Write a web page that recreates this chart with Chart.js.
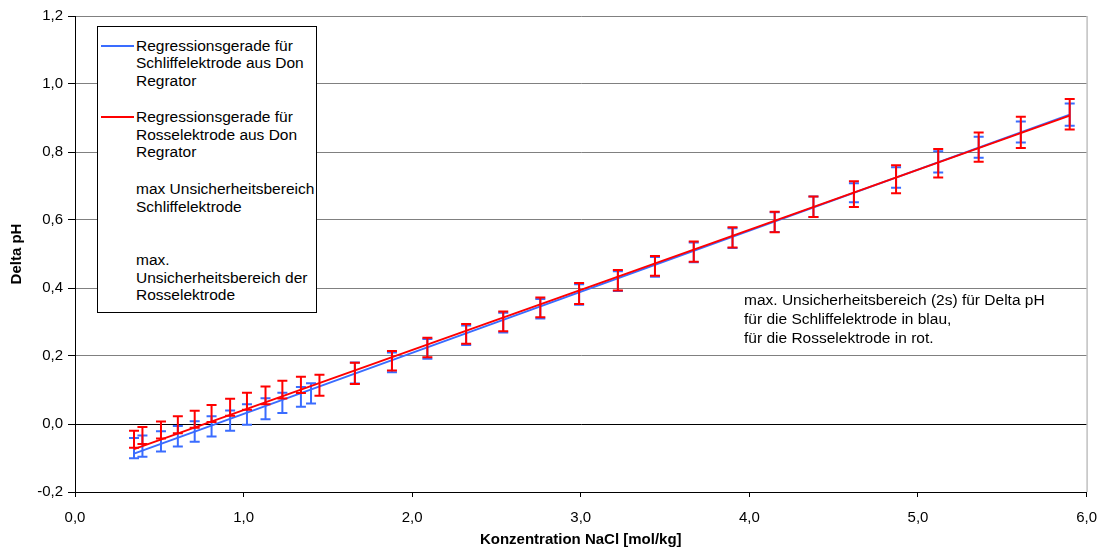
<!DOCTYPE html>
<html>
<head>
<meta charset="utf-8">
<script src="https://cdn.jsdelivr.net/npm/chart.js@4.4.1/dist/chart.umd.min.js"></script>
<style>
  body { margin: 0; background: #fff; }
  #wrap { position: relative; width: 1109px; height: 551px; font-family: "Liberation Sans", Arial, sans-serif; }
  #legend { position: absolute; left: 97px; top: 26px; width: 218px; height: 285px; border: 1px solid #000; background: #fff; }
  .entry { position: absolute; left: 38px; font-size: 15.5px; line-height: 17.5px; color: #000; white-space: nowrap; }
  .sample { position: absolute; left: 3px; width: 33px; height: 0; border-top: 2px solid; }
  #note { position: absolute; left: 744px; top: 290px; font-size: 15.5px; line-height: 19px; color: #000; white-space: nowrap; }
</style>
</head>
<body>
<div id="wrap">
  <canvas id="chart" width="1109" height="551"></canvas>
  <div id="legend"></div>
  <div id="note"></div>
</div>
<script>
// Konzentration NaCl [mol/kg] der Messpunkte
const xRoss = [0.35, 0.40, 0.51, 0.61, 0.71, 0.81, 0.92, 1.02, 1.13, 1.23, 1.34, 1.45, 1.66, 1.88, 2.09, 2.32, 2.54, 2.76, 2.99, 3.22, 3.44, 3.67, 3.90, 4.15, 4.38, 4.62, 4.87, 5.12, 5.36, 5.61, 5.90];
const xSchliff = [0.35, 0.40, 0.51, 0.61, 0.71, 0.81, 0.92, 1.02, 1.13, 1.23, 1.34, 1.40, 1.66, 1.88, 2.09, 2.32, 2.54, 2.76, 2.99, 3.22, 3.44, 3.67, 3.90, 4.15, 4.38, 4.62, 4.87, 5.12, 5.36, 5.61, 5.90];

// Delta pH Mittelwerte und Unsicherheit (2s)
const rossMid = [-0.045, -0.034, -0.018, -0.002, 0.014, 0.031, 0.049, 0.067, 0.084, 0.101, 0.115, 0.114, 0.149, 0.186, 0.225, 0.265, 0.302, 0.343, 0.384, 0.423, 0.465, 0.507, 0.549, 0.594, 0.639, 0.676, 0.720, 0.767, 0.814, 0.858, 0.911];
const rossErr = [0.025, 0.025, 0.025, 0.025, 0.025, 0.025, 0.025, 0.025, 0.026, 0.026, 0.024, 0.031, 0.031, 0.029, 0.029, 0.029, 0.029, 0.029, 0.031, 0.030, 0.029, 0.030, 0.030, 0.030, 0.030, 0.038, 0.041, 0.042, 0.043, 0.046, 0.045];
const schliffMid = [-0.071, -0.065, -0.051, -0.036, -0.022, -0.007, 0.010, 0.028, 0.045, 0.062, 0.080, 0.090, 0.150, 0.181, 0.221, 0.261, 0.298, 0.339, 0.381, 0.420, 0.462, 0.505, 0.547, 0.594, 0.639, 0.680, 0.725, 0.771, 0.814, 0.859, 0.910];
const schliffErr = [0.030, 0.031, 0.030, 0.030, 0.030, 0.030, 0.030, 0.030, 0.031, 0.030, 0.029, 0.030, 0.031, 0.029, 0.029, 0.029, 0.029, 0.029, 0.030, 0.029, 0.029, 0.029, 0.029, 0.029, 0.030, 0.028, 0.030, 0.031, 0.031, 0.031, 0.033];

// Regressionsgeraden (Anfang / Ende)
const lineX = [0.35, 5.90];
const schliffLine = [-0.087, 0.910];
const rossLine = [-0.074, 0.907];

const yTicks = [-0.2, 0, 0.2, 0.4, 0.6, 0.8, 1.0, 1.2];

const legendLabels = [
  ["Regressionsgerade für", "Schliffelektrode aus Don", "Regrator"],
  ["Regressionsgerade für", "Rosselektrode aus Don", "Regrator"],
  ["max Unsicherheitsbereich", "Schliffelektrode"],
  ["max.", "Unsicherheitsbereich der", "Rosselektrode"]
];
const noteLines = ["max. Unsicherheitsbereich (2s) für Delta pH", "für die Schliffelektrode in blau,", "für die Rosselektrode in rot."];

const BLUE = "#3a6cff";
const RED = "#ff0000";

function pts(xs, ys) {
  return xs.map((x, i) => ({x: x, y: ys[i]}));
}

function comma(v) {
  return v.toFixed(1).replace(".", ",");
}

// Fehlerbalken pro Datensatz, unter der jeweiligen Geraden
const errorBars = {
  id: "errorBars",
  beforeDatasetDraw(chart, args) {
    const ds = chart.data.datasets[args.index];
    if (!ds.err) return;
    const xs = chart.scales.x, ys = chart.scales.y;
    const ctx = chart.ctx;
    ctx.save();
    ctx.strokeStyle = ds.borderColor;
    ctx.lineWidth = 2;
    ds.err.x.forEach((x, i) => {
      const px = xs.getPixelForValue(x);
      const top = ys.getPixelForValue(ds.err.mid[i] + ds.err.e[i]);
      const bot = ys.getPixelForValue(ds.err.mid[i] - ds.err.e[i]);
      ctx.beginPath();
      ctx.moveTo(px, top); ctx.lineTo(px, bot);
      ctx.moveTo(px - 5, top); ctx.lineTo(px + 5, top);
      ctx.moveTo(px - 5, bot); ctx.lineTo(px + 5, bot);
      ctx.stroke();
    });
    ctx.restore();
  },
  afterDraw(chart) {
    const a = chart.chartArea, ctx = chart.ctx;
    ctx.save();
    ctx.strokeStyle = "#a0a0a0";
    ctx.lineWidth = 1;
    ctx.beginPath();
    ctx.moveTo(a.right + 0.5, a.top);
    ctx.lineTo(a.right + 0.5, a.bottom);
    ctx.stroke();
    ctx.restore();
  }
};

const chart = new Chart(document.getElementById("chart"), {
  type: "scatter",
  data: {
    datasets: [
      {
        label: "Regressionsgerade für Rosselektrode aus Don Regrator",
        data: pts(lineX, rossLine),
        showLine: true,
        borderColor: RED,
        borderWidth: 2,
        pointRadius: 0,
        err: {x: xRoss, mid: rossMid, e: rossErr}
      },
      {
        label: "Regressionsgerade für Schliffelektrode aus Don Regrator",
        data: pts(lineX, schliffLine),
        showLine: true,
        borderColor: BLUE,
        borderWidth: 2,
        pointRadius: 0,
        err: {x: xSchliff, mid: schliffMid, e: schliffErr}
      }
    ]
  },
  options: {
    responsive: false,
    animation: false,
    layout: { padding: { left: 0, top: 16, right: 19, bottom: 0 } },
    plugins: {
      legend: { display: false },
      tooltip: { enabled: false }
    },
    scales: {
      x: {
        type: "linear",
        min: 0,
        max: 6,
        afterFit(s) { s.height = 59; },
        ticks: {
          stepSize: 1,
          padding: 12,
          color: "#000",
          font: { family: "Liberation Sans", size: 15 },
          callback: v => comma(v)
        },
        grid: { drawOnChartArea: false, drawTicks: true, tickLength: 5, color: "#000" },
        border: { color: "#000", width: 1 },
        title: {
          display: true,
          text: "Konzentration NaCl [mol/kg]",
          color: "#000",
          font: { family: "Liberation Sans", size: 15, weight: "bold" },
          padding: { top: 0, bottom: 2 }
        }
      },
      y: {
        type: "linear",
        min: -0.2,
        max: 1.2,
        afterFit(s) { s.width = 75; },
        afterBuildTicks(s) { s.ticks = yTicks.map(v => ({value: v})); },
        ticks: {
          padding: 5,
          color: "#000",
          font: { family: "Liberation Sans", size: 15 },
          callback: v => comma(v)
        },
        grid: {
          color: c => (c.tick && Math.abs(c.tick.value) < 1e-9) ? "#000" : "#808080",
          tickColor: "#000",
          tickLength: 7
        },
        border: { color: "#000", width: 1 },
        title: {
          display: true,
          text: "Delta pH",
          color: "#000",
          font: { family: "Liberation Sans", size: 15, weight: "bold" },
          padding: { top: 8, bottom: 0 }
        }
      }
    }
  },
  plugins: [errorBars]
});

// Legende (mehrzeilig) als HTML
const legend = document.getElementById("legend");
const entryTops = [9.5, 81, 153, 224];
const sampleColors = [BLUE, RED, null, null];
legendLabels.forEach((lines, i) => {
  const d = document.createElement("div");
  d.className = "entry";
  d.style.top = entryTops[i] + "px";
  d.innerHTML = lines.join("<br>");
  legend.appendChild(d);
  if (sampleColors[i]) {
    const s = document.createElement("div");
    s.className = "sample";
    s.style.borderColor = sampleColors[i];
    s.style.top = (entryTops[i] + 8) + "px";
    legend.appendChild(s);
  }
});

document.getElementById("note").innerHTML = noteLines.join("<br>");
</script>
</body>
</html>
